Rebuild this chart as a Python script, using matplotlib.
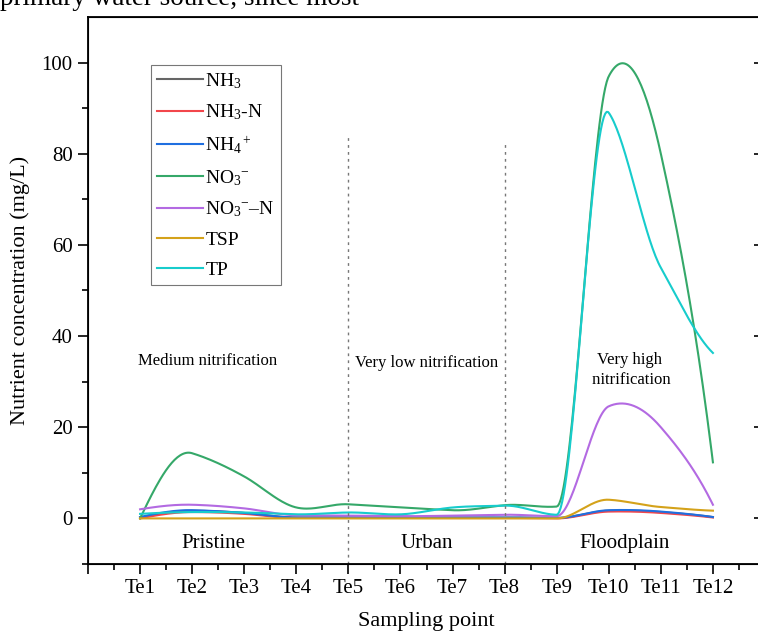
'''
Nutrient concentration along the sampling points (Te1-Te12)
'''
import numpy as np
import matplotlib
matplotlib.use('Agg')
import matplotlib.pyplot as plt

plt.rcParams['font.family'] = ['Liberation Serif', 'DejaVu Serif']
plt.rcParams['mathtext.fontset'] = 'custom'
plt.rcParams['mathtext.rm'] = 'Liberation Serif'
plt.rcParams['mathtext.it'] = 'Liberation Serif:italic'

points = ['Te1', 'Te2', 'Te3', 'Te4', 'Te5', 'Te6', 'Te7', 'Te8', 'Te9', 'Te10', 'Te11', 'Te12']

nh3 = [0.2, 1.7, 1.2, 0.2, 0.2, 0.2, 0.2, 0.2, 0.1, 1.7, 1.4, 0.3]
nh3_n = [0.0, 1.4, 1.0, 0.1, 0.1, 0.1, 0.1, 0.1, 0.0, 1.5, 1.2, 0.2]
nh4 = [0.3, 1.8, 1.2, 0.2, 0.2, 0.2, 0.2, 0.2, 0.1, 1.8, 1.5, 0.3]
no3 = [0.0, 14.3, 9.2, 2.4, 3.1, 2.4, 1.8, 2.9, 2.6, 97.0, 80.0, 12.3]
no3_n = [2.0, 3.0, 2.2, 0.7, 0.6, 0.5, 0.6, 0.8, 0.5, 24.6, 20.0, 3.0]
tsp = [0.0, 0.0, 0.0, 0.0, 0.0, 0.0, 0.0, 0.0, 0.0, 4.1, 2.5, 1.7]
tp = [1.0, 1.4, 1.3, 0.9, 1.3, 0.9, 2.4, 2.8, 0.8, 89.0, 55.0, 36.3]

series = [
    (nh3, r'NH$_3$', '#666666'),
    (nh3_n, r'NH$_3$-N', '#f2464b'),
    (nh4, r'NH$_4$$^+$', '#1f6fe0'),
    (no3, r'NO$_3$$^{-}$', '#35a869'),
    (no3_n, r'NO$_3$$^{-}$–N', '#b36ae2'),
    (tsp, 'TSP', '#d4a21a'),
    (tp, 'TP', '#17cccc'),
]

zones = ['Pristine', 'Urban', 'Floodplain']
zone_x = [2.4, 6.5, 10.3]
boundaries = [5, 8]
boundary_top = [84, 82.5]
notes = ['Medium nitrification', 'Very low nitrification', 'Very high\n nitrification']
note_x = [2.3, 6.5, 10.4]
note_y = [34.5, 34, 32.5]


def akima(x, y, n=400):
    '''
    Akima 插值平滑曲线
    '''
    x = np.asarray(x, float)
    y = np.asarray(y, float)
    d = np.diff(y) / np.diff(x)
    m = np.concatenate([[3*d[0]-2*d[1], 2*d[0]-d[1]], d, [2*d[-1]-d[-2], 3*d[-1]-2*d[-2]]])
    t = np.zeros(len(x))
    for i in range(len(x)):
        w1 = abs(m[i+3]-m[i+2])
        w2 = abs(m[i+1]-m[i])
        if w1 + w2 < 1e-9:
            t[i] = (m[i+1]+m[i+2])/2
        else:
            t[i] = (w1*m[i+1]+w2*m[i+2])/(w1+w2)
    xx = np.linspace(x[0], x[-1], n)
    idx = np.clip(np.searchsorted(x, xx)-1, 0, len(x)-2)
    h = x[idx+1]-x[idx]
    s = (xx-x[idx])/h
    yy = ((2*s**3-3*s**2+1)*y[idx] + (s**3-2*s**2+s)*h*t[idx]
          + (-2*s**3+3*s**2)*y[idx+1] + (s**3-s**2)*h*t[idx+1])
    return xx, yy


def main():
    fig = plt.figure(figsize=(7.58, 6.39), dpi=100)
    ax = fig.add_axes([88/758, 1-564/639, (765-88)/758, (564-17)/639])
    xs = np.arange(1, len(points)+1)

    for vals, label, color in series:
        sx, sy = akima(xs, vals)
        ax.plot(sx, sy, color=color, lw=1.5, label=label)

    for b, top in zip(boundaries, boundary_top):
        ax.vlines(b, -10, top, colors='#777777', linestyles=(0, (2, 3)), lw=1)

    for name, zx in zip(zones, zone_x):
        ax.text(zx, -5.5, name, ha='center', va='center', fontsize=15)
    for note, nx, ny in zip(notes, note_x, note_y):
        ax.text(nx, ny, note, ha='center', va='center', fontsize=12, linespacing=1.3)

    ax.set_xlim(0, 13)
    ax.set_ylim(-10, 110)
    ax.set_xticks(np.arange(0, 14))
    ax.set_xticklabels([''] + points + [''])
    ax.set_xticks(np.arange(0.5, 13, 1), minor=True)
    ax.set_yticks([0, 20, 40, 60, 80, 100])
    ax.set_yticks([-10, 10, 30, 50, 70, 90], minor=True)
    ax.tick_params(axis='both', which='major', labelsize=15, length=7.5, width=1.2)
    ax.tick_params(axis='both', which='minor', length=4, width=1.2)
    for sp in ax.spines.values():
        sp.set_linewidth(1.3)

    # 右侧向内的刻度
    ax2 = ax.twinx()
    ax2.set_ylim(ax.get_ylim())
    ax2.set_yticks([0, 20, 40, 60, 80, 100])
    ax2.tick_params(axis='y', direction='in', length=8, width=1.2, labelright=False)

    ax.set_xlabel('Sampling point', fontsize=16, labelpad=10)
    ax.set_ylabel('Nutrient concentration (mg/L)', fontsize=16, labelpad=8)

    leg = ax.legend(loc='upper left', bbox_to_anchor=(0.093, 0.912), fontsize=14,
                    frameon=True, fancybox=False, edgecolor='#555555',
                    handlelength=2.4, handletextpad=0.1, labelspacing=0.62,
                    borderpad=0.3, borderaxespad=0)
    leg.get_frame().set_linewidth(0.8)

    fig.text(0.0, 1-5/639, 'primary water source, since most', fontsize=19.5,
             ha='left', va='baseline')

    fig.savefig('out.png', dpi=100)


if __name__ == '__main__':
    main()
